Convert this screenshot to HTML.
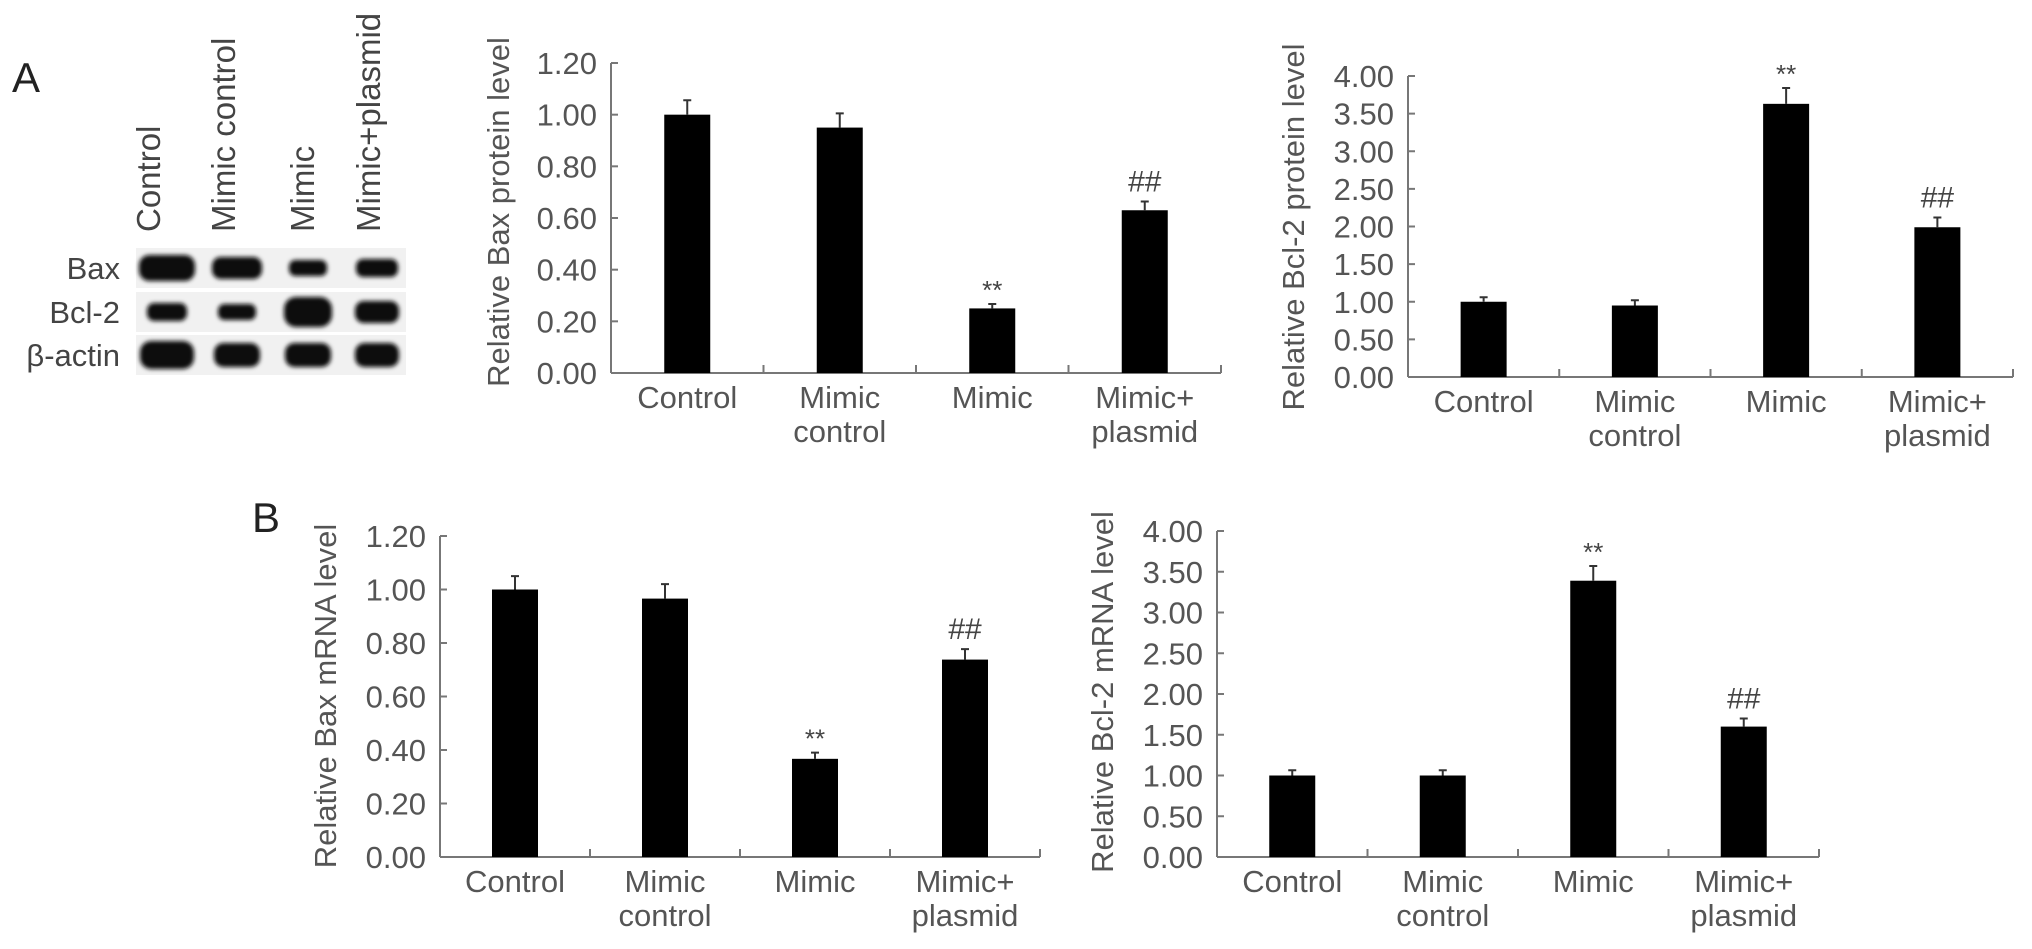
<!DOCTYPE html>
<html><head><meta charset="utf-8"><style>
html,body{margin:0;padding:0;background:#fff;width:2032px;height:949px;overflow:hidden}
svg{display:block}
text{font-family:"Liberation Sans",Arial,sans-serif}
</style></head><body>
<svg id="fig" width="2032" height="949" viewBox="0 0 2032 949" xmlns="http://www.w3.org/2000/svg">
<defs><filter id="blur" x="-20%" y="-40%" width="140%" height="180%"><feGaussianBlur stdDeviation="2"/></filter></defs>
<text x="12" y="92" font-size="42" fill="#222">A</text>
<text x="252" y="532" font-size="42" fill="#222">B</text>
<g id="blot"></g>
</svg>
<script>
const categories = ["Control", "Mimic control", "Mimic", "Mimic+plasmid"];
const baxProtein = [1.00, 0.95, 0.25, 0.63];
const baxProteinErr = [0.056, 0.055, 0.017, 0.034];
const bcl2Protein = [1.00, 0.95, 3.63, 1.99];
const bcl2ProteinErr = [0.06, 0.07, 0.21, 0.13];
const baxMrna = [1.00, 0.966, 0.367, 0.738];
const baxMrnaErr = [0.05, 0.054, 0.023, 0.039];
const bcl2Mrna = [1.00, 1.00, 3.39, 1.60];
const bcl2MrnaErr = [0.065, 0.065, 0.18, 0.10];
const sigMarks = ["", "", "**", "##"];
const ticksBax = ["0.00","0.20","0.40","0.60","0.80","1.00","1.20"];
const ticksBcl = ["0.00","0.50","1.00","1.50","2.00","2.50","3.00","3.50","4.00"];

const NS = "http://www.w3.org/2000/svg";
const svg = document.getElementById('fig');
function mk(tag, attrs, parent){
  const e = document.createElementNS(NS, tag);
  for (const k in attrs) e.setAttribute(k, attrs[k]);
  (parent||svg).appendChild(e);
  return e;
}

function chart(cfg){
  const g = mk('g', {});
  
  
  const maxV = parseFloat(cfg.ticks[cfg.ticks.length-1]);
  const y = v => cfg.base - (v / maxV) * (cfg.base - cfg.top);
  const catW = (cfg.right - cfg.x0) / categories.length;
  const xc = i => cfg.x0 + catW * (i + 0.5);
  const ya = mk('line', {x1:cfg.x0, y1:cfg.top, x2:cfg.x0, y2:cfg.base, stroke:'#777', 'stroke-width':2}, g);
  
  
  const xa = mk('line', {x1:cfg.x0, y1:cfg.base, x2:cfg.right, y2:cfg.base, stroke:'#777', 'stroke-width':2}, g);
  
  
  cfg.ticks.forEach(t => {
    const yy = y(parseFloat(t));
    mk('line', {x1:cfg.x0, y1:yy, x2:cfg.x0+7, y2:yy, stroke:'#777', 'stroke-width':2}, g);
    const tl = mk('text', {x:cfg.x0-14, y:yy+11, 'font-size':31, fill:'#555', 'text-anchor':'end'}, g);
    
    
    tl.textContent = t;
  });
  for (let i = 1; i <= categories.length; i++){
    const xx = cfg.x0 + catW * i;
    mk('line', {x1:xx, y1:cfg.base, x2:xx, y2:cfg.base-8, stroke:'#777', 'stroke-width':2}, g);
  }
  const labels = [["Control"],["Mimic","control"],["Mimic"],["Mimic+","plasmid"]];
  categories.forEach((c, i) => {
    labels[i].forEach((ln, j) => {
      const tx = mk('text', {x:xc(i), y:cfg.base+35+j*34, 'font-size':31, fill:'#555', 'text-anchor':'middle'}, g);
      
      
      tx.textContent = ln;
    });
    const v = cfg.vals[i], e = cfg.errs[i];
    const b = mk('rect', {x:xc(i)-23, y:y(v), width:46, height:cfg.base-y(v), fill:'#000'}, g);
    
    
    const eb = mk('path', {d:`M${xc(i)} ${y(v)} V${y(v+e)} M${xc(i)-4} ${y(v+e)} H${xc(i)+4}`, stroke:'#333', 'stroke-width':2, fill:'none'}, g);
    
    
    if (sigMarks[i]){
      const isStar = sigMarks[i] === "**";
      const s = mk('text', {x:xc(i), y:y(v+e) - (isStar ? 5 : 10), 'font-size': isStar ? 26 : 30, fill:'#444', 'text-anchor':'middle', 'font-family':'"Liberation Serif",serif'}, g);
      
      
      s.textContent = sigMarks[i];
    }
  });
  const tt = mk('text', {x:0, y:0, 'font-size':31, fill:'#555', 'text-anchor':'middle', transform:`translate(${cfg.tx+11},${cfg.ty}) rotate(-90)`}, g);
  
  
  tt.textContent = cfg.title;
}

chart({name:'bax-protein-chart', x0:611, right:1221, base:373, top:63, ticks:ticksBax, vals:baxProtein, errs:baxProteinErr, title:'Relative Bax protein level', tx:498, ty:212});
chart({name:'bcl2-protein-chart', x0:1408, right:2013, base:377, top:76, ticks:ticksBcl, vals:bcl2Protein, errs:bcl2ProteinErr, title:'Relative Bcl-2 protein level', tx:1293, ty:227});
chart({name:'bax-mrna-chart', x0:440, right:1040, base:857, top:536, ticks:ticksBax, vals:baxMrna, errs:baxMrnaErr, title:'Relative Bax mRNA level', tx:325, ty:696});
chart({name:'bcl2-mrna-chart', x0:1217, right:1819, base:857, top:531, ticks:ticksBcl, vals:bcl2Mrna, errs:bcl2MrnaErr, title:'Relative Bcl-2 mRNA level', tx:1102, ty:692});

const blot = document.getElementById('blot');
const laneX = [167, 237, 308, 377];
const laneLabelX = [148, 223, 302, 368];
const rowNames = ["Bax", "Bcl-2", "\u03B2-actin"];
const rowY = [268, 312, 355];
const bandW = [[56,50,38,42],[40,38,48,44],[54,46,46,44]];
const bandH = [[26,22,16,18],[18,16,30,22],[28,24,24,24]];
categories.forEach((c, i) => {
  const t = mk('text', {x:0, y:0, 'font-size':33, fill:'#444', transform:`translate(${laneLabelX[i]+12},232) rotate(-90)`}, blot);
  
  
  t.textContent = c;
});
rowNames.forEach((r, j) => {
  mk('rect', {x:136, y:rowY[j]-20, width:270, height:40, fill:'#f1f1f1'}, blot);
  const t = mk('text', {x:120, y:rowY[j]+11, 'font-size':31, fill:'#444', 'text-anchor':'end'}, blot);
  
  
  t.textContent = r;
  laneX.forEach((lx, i) => {
    const w = bandW[j][i], h = bandH[j][i];
    const b = mk('rect', {x:lx-w/2, y:rowY[j]-h/2, width:w, height:h, rx:h/2.5, fill:'#111', filter:'url(#blur)'}, blot);
    
    
  });
});
</script>
</body></html>
